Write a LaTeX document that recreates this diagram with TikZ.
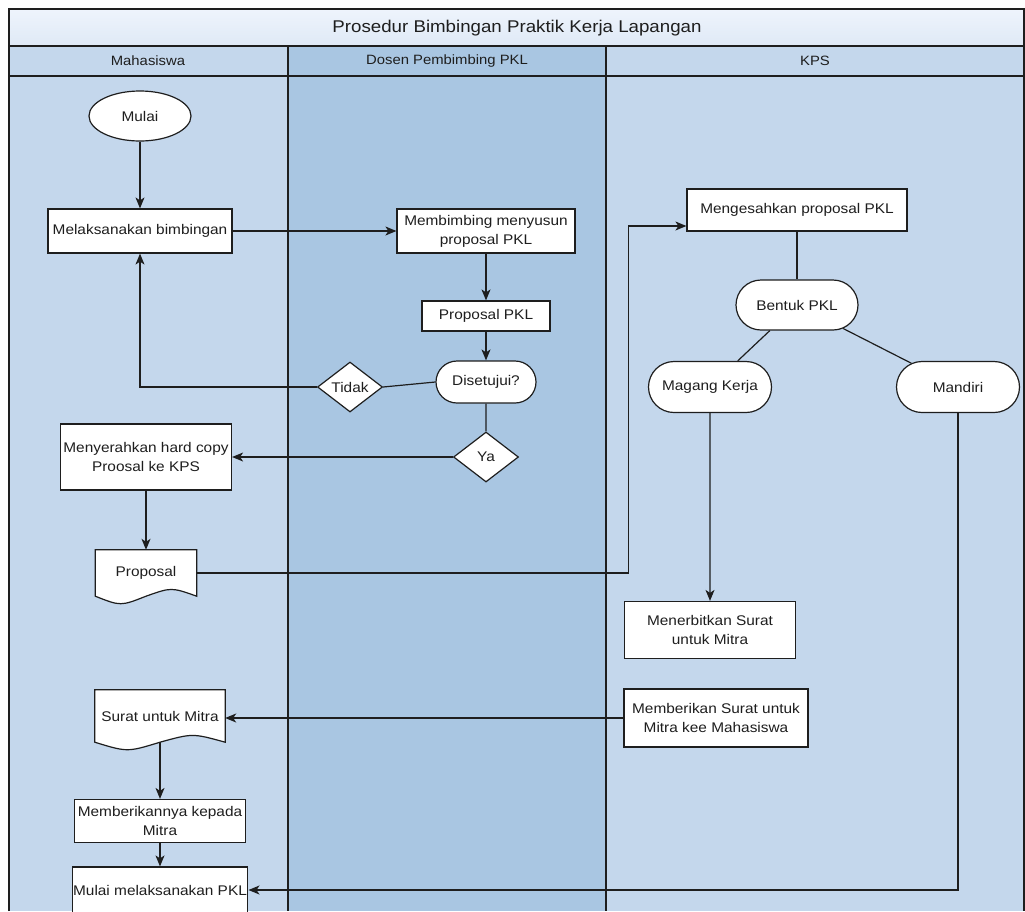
\documentclass[tikz,border=0pt]{standalone}
\usepackage{fontspec}
\setmainfont{Liberation Sans}[FakeStretch=1.1]
\usetikzlibrary{arrows.meta,shapes.geometric,shapes.misc,calc}
\pgfdeclarelayer{back}
\pgfsetlayers{back,main}
\definecolor{laneL}{HTML}{C4D7EC}
\definecolor{laneM}{HTML}{A9C6E2}
\definecolor{titletop}{HTML}{EEF4FC}
\definecolor{titlebot}{HTML}{DFE9F6}
\definecolor{linec}{HTML}{1E1E1E}
\definecolor{txt}{HTML}{1E1E1E}
\newcommand\nfont{\fontsize{14}{19}\selectfont}
\begin{document}
\begin{tikzpicture}[x=1pt,y=-1pt,
 proc/.style={draw=linec,fill=white,line width=1.2pt,rectangle,align=center,font=\nfont,text=txt,inner sep=1pt},
 term/.style={proc,rounded rectangle,minimum width=124pt,minimum height=50pt},
 dec/.style={proc,diamond,minimum width=65pt,minimum height=50pt,inner sep=0pt},
 docnode/.style={draw=none,fill=none,rectangle,align=center,font=\nfont,text=txt,inner sep=1pt},
 docstyle/.style={draw=linec,fill=white,line width=1.2pt},
 flow/.style={draw=linec,line width=1.2pt},
 arr/.style={flow,-{Stealth[length=11pt,width=9pt,inset=3pt]}},
 laneline/.style={draw=linec,line width=1.2pt},
 hdr/.style={font=\fontsize{13.5}{16}\selectfont,text=txt},
 ttl/.style={font=\fontsize{17}{20}\selectfont,text=txt}]
\useasboundingbox (0,0) rectangle (1025,911);
\begin{pgfonlayer}{back}
\fill[laneL] (9,46) rectangle (288,911);
\fill[laneM] (288,46) rectangle (606,911);
\fill[laneL] (606,46) rectangle (1024,911);
\shade[top color=titletop,bottom color=titlebot] (9,9) rectangle (1024,46);
\draw[laneline] (9,911) -- (9,9) -- (1024,9) -- (1024,911);
\draw[laneline] (9,46) -- (1024,46);
\draw[laneline] (9,76) -- (1024,76);
\draw[laneline] (288,46) -- (288,911);
\draw[laneline] (606,46) -- (606,911);
\end{pgfonlayer}

\node[ttl] (title) at (517,28) {Prosedur Bimbingan Praktik Kerja Lapangan};
\node[hdr] (h1) at (148,61) {Mahasiswa};
\node[hdr] (h2) at (447,61) {Dosen Pembimbing PKL};
\node[hdr] (h3) at (815,61) {KPS};

\node[proc,ellipse,minimum width=102pt,minimum height=50pt] (mulai) at (140,116) {Mulai};
\node[proc,minimum width=184pt,minimum height=44pt] (melak) at (140,231) {Melaksanakan bimbingan};
\node[proc,minimum width=178pt,minimum height=44pt] (membimbing) at (486,231) {Membimbing menyusun\\proposal PKL};
\node[proc,minimum width=128pt,minimum height=30pt] (ppkl) at (486,316) {Proposal PKL};
\node[term,minimum width=102pt,minimum height=42pt] (setuju) at (486,382) {Disetujui?};
\node[dec] (tidak) at (350,387) {Tidak};
\node[dec] (ya) at (486,457) {Ya};
\node[proc,minimum width=171pt,minimum height=66pt] (serah) at (146,457) {Menyerahkan hard copy\\Proosal ke KPS};
\node[docnode,minimum width=101pt,minimum height=46pt] (prop) at (146,573) {Proposal};
\node[proc,minimum width=220pt,minimum height=42pt] (sah) at (797,210) {Mengesahkan proposal PKL};
\node[term] (bentuk) at (797,305) {Bentuk PKL};
\node[term,minimum width=125pt,minimum height=51pt] (magang) at (710,387) {Magang Kerja};
\node[term,minimum width=125pt,minimum height=51pt] (mandiri) at (958,387) {Mandiri};
\node[proc,minimum width=171pt,minimum height=57pt] (terbit) at (710,630) {Menerbitkan Surat\\untuk Mitra};
\node[proc,minimum width=184pt,minimum height=58pt] (beri) at (716,718) {Memberikan Surat untuk\\Mitra kee Mahasiswa};
\node[docnode,minimum width=130pt,minimum height=52pt] (surat) at (160,716) {Surat untuk Mitra};
\node[proc,minimum width=171pt,minimum height=43pt] (beri2) at (160,821) {Memberikannya kepada\\Mitra};
\node[proc,minimum width=171pt,minimum height=46pt] (mulaipkl) at (160,890) {Mulai melaksanakan PKL};

\begin{pgfonlayer}{back}
\foreach \n in {prop,surat}{
 \draw[docstyle] (\n.south west) -- (\n.north west) -- (\n.north east) -- (\n.south east)
  .. controls ($(\n.south east)!0.5!(\n.south)+(0,-9)$) .. (\n.south)
  .. controls ($(\n.south)!0.5!(\n.south west)+(0,10)$) .. (\n.south west) -- cycle;
}
\end{pgfonlayer}

\draw[arr] (mulai) -- (melak);
\draw[arr] (melak) -- (membimbing);
\draw[arr] (membimbing) -- (ppkl);
\draw[arr] (ppkl) -- (setuju);
\draw[flow] (setuju.west) -- (tidak.east);
\draw[arr] (tidak.west) -| (melak.south);
\draw[flow] (setuju) -- (ya);
\draw[arr] (ya) -- (serah);
\draw[arr] (serah) -- (prop);
\draw[arr] (prop.east) -| ($(sah.west)+(-58,16)$) -- ($(sah.west)+(0,16)$);
\draw[flow] (sah) -- (bentuk);
\draw[flow] (bentuk) -- (magang);
\draw[flow] (bentuk) -- (mandiri);
\draw[arr] (magang) -- (terbit);
\draw[arr] (beri.west) -- (beri.west -| surat.east);
\draw[arr] (surat.south) -- (beri2.north);
\draw[arr] (beri2) -- (mulaipkl);
\draw[arr] (mandiri.south) |- (mulaipkl.east);
\end{tikzpicture}
\end{document}
